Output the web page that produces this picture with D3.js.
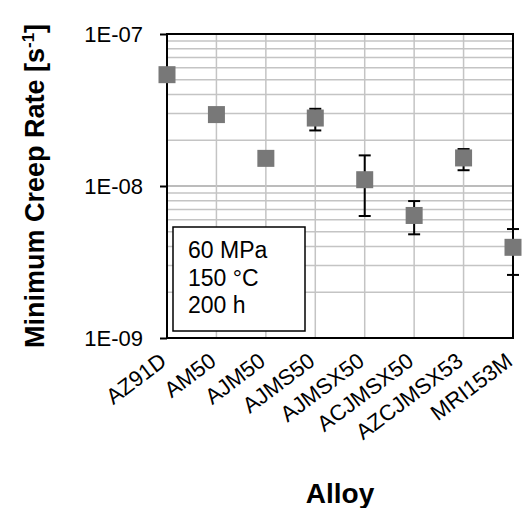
<!DOCTYPE html>
<html>
<head>
<meta charset="utf-8">
<script src="https://cdn.jsdelivr.net/npm/d3@7"></script>
<style>
  body { margin: 0; background: #fff; }
  svg { display: block; font-family: Arial, "Liberation Sans", sans-serif; }
</style>
</head>
<body>
<svg id="chart" width="522" height="508"></svg>
<script>
// data
const alloys = ['AZ91D', 'AM50', 'AJM50', 'AJMS50', 'AJMSX50', 'ACJMSX50', 'AZCJMSX53', 'MRI153M'];
const rate = [5.4e-8, 2.95e-8, 1.52e-8, 2.8e-8, 1.1e-8, 6.4e-9, 1.53e-8, 3.95e-9];
const errHigh = [null, null, null, 3.22e-8, 1.59e-8, 7.96e-9, 1.75e-8, 5.21e-9];
const errLow = [null, null, null, 2.32e-8, 6.35e-9, 4.81e-9, 1.27e-8, 2.6e-9];
const yTicks = [1e-9, 1e-8, 1e-7];
const yTickLabels = ['1E-09', '1E-08', '1E-07'];
const conditions = ['60 MPa', '150 °C', '200 h'];

const plotL = 167, plotR = 513, plotT = 34, plotB = 338;

const svg = d3.select('#chart');

const x = d3.scalePoint()
  .domain(alloys)
  .range([plotL, plotR]);

const y = d3.scaleLog()
  .domain([1e-9, 1e-7])
  .range([plotB, plotT]);

// horizontal grid (minor + major)
svg.append('g')
  .selectAll('line')
  .data(y.ticks())
  .enter()
  .append('line')
  .attr('x1', plotL).attr('x2', plotR)
  .attr('y1', d => y(d)).attr('y2', d => y(d))
  .attr('stroke', d => yTicks.includes(d) ? '#a6a6a6' : '#c4c4c4')
  .attr('stroke-width', 1.5);

// vertical grid at each alloy
svg.append('g')
  .selectAll('line')
  .data(alloys)
  .enter()
  .append('line')
  .attr('x1', d => x(d)).attr('x2', d => x(d))
  .attr('y1', plotT).attr('y2', plotB)
  .attr('stroke', '#c4c4c4')
  .attr('stroke-width', 1.5);

// plot frame
svg.append('rect')
  .attr('x', plotL).attr('y', plotT)
  .attr('width', plotR - plotL).attr('height', plotB - plotT)
  .attr('fill', 'none')
  .attr('stroke', '#000')
  .attr('stroke-width', 2);

// y axis: major ticks and labels
const yAxis = d3.axisLeft(y)
  .tickValues(yTicks)
  .tickFormat((d, i) => yTickLabels[i])
  .tickSize(7)
  .tickPadding(17);

svg.append('g')
  .attr('transform', `translate(${plotL},0)`)
  .call(yAxis)
  .call(g => g.select('.domain').remove())
  .call(g => g.selectAll('line').attr('stroke', '#000').attr('stroke-width', 2))
  .call(g => g.selectAll('text')
    .attr('font-size', 22)
    .attr('font-family', 'Arial, "Liberation Sans", sans-serif')
    .attr('fill', '#000'));

// x category labels, rotated; the baseline end sits under each category
svg.append('g')
  .selectAll('text')
  .data(alloys)
  .enter()
  .append('text')
  .attr('transform', d => `translate(${x(d) + 1},${plotB + 26}) rotate(-37)`)
  .attr('text-anchor', 'end')
  .attr('font-size', 22)
  .attr('fill', '#000')
  .text(d => d);

// conditions box
const box = svg.append('g');
box.append('rect')
  .attr('x', 173).attr('y', 227)
  .attr('width', 132).attr('height', 104)
  .attr('fill', '#fff')
  .attr('stroke', '#000')
  .attr('stroke-width', 1.5);
box.selectAll('text')
  .data(conditions)
  .enter()
  .append('text')
  .attr('x', 188)
  .attr('y', (d, i) => 258 + i * 27.5)
  .attr('font-size', 23)
  .attr('fill', '#000')
  .text(d => d);

// error bars
const withErr = alloys.map((a, i) => ({ a, hi: errHigh[i], lo: errLow[i] })).filter(d => d.hi !== null);
const eb = svg.append('g').attr('stroke', '#000').attr('stroke-width', 2);
eb.selectAll('line.v')
  .data(withErr)
  .enter()
  .append('line')
  .attr('x1', d => x(d.a)).attr('x2', d => x(d.a))
  .attr('y1', d => y(d.hi)).attr('y2', d => y(d.lo));
eb.selectAll('line.hi')
  .data(withErr)
  .enter()
  .append('line')
  .attr('x1', d => x(d.a) - 6).attr('x2', d => x(d.a) + 6)
  .attr('y1', d => y(d.hi)).attr('y2', d => y(d.hi));
eb.selectAll('line.lo')
  .data(withErr)
  .enter()
  .append('line')
  .attr('x1', d => x(d.a) - 6).attr('x2', d => x(d.a) + 6)
  .attr('y1', d => y(d.lo)).attr('y2', d => y(d.lo));

// square markers
svg.append('g')
  .selectAll('rect')
  .data(alloys)
  .enter()
  .append('rect')
  .attr('x', d => x(d) - 8.5)
  .attr('y', (d, i) => y(rate[i]) - 8.5)
  .attr('width', 17).attr('height', 17)
  .attr('fill', '#787878');

// axis titles
svg.append('text')
  .attr('transform', `translate(44,${(plotT + plotB) / 2}) rotate(-90)`)
  .attr('text-anchor', 'middle')
  .attr('font-size', 27)
  .attr('font-weight', 'bold')
  .attr('fill', '#000')
  .call(t => {
    t.append('tspan').text('Minimum Creep Rate [s');
    t.append('tspan').attr('font-size', 17).attr('dy', -10).text('-1');
    t.append('tspan').attr('dy', 10).text(']');
  });

svg.append('text')
  .attr('x', (plotL + plotR) / 2)
  .attr('y', 503)
  .attr('text-anchor', 'middle')
  .attr('font-size', 28)
  .attr('font-weight', 'bold')
  .attr('fill', '#000')
  .text('Alloy');
</script>
</body>
</html>
